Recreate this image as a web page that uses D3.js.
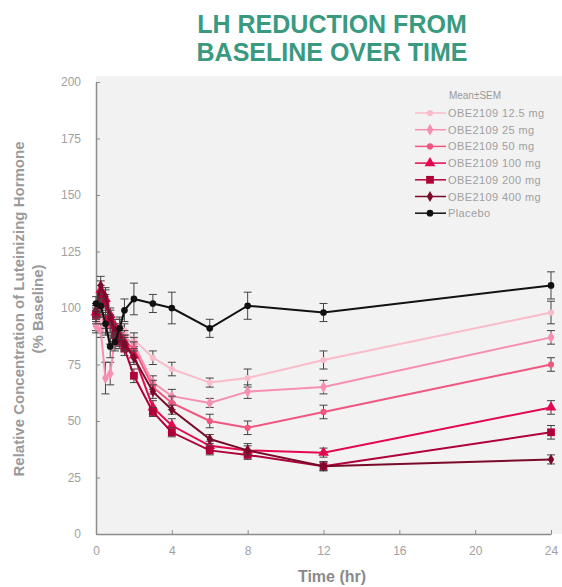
<!DOCTYPE html>
<html>
<head>
<meta charset="utf-8">
<script src="https://cdn.jsdelivr.net/npm/d3@7"></script>
<style>
  body { margin: 0; background: #fff; }
  text { font-family: "Liberation Sans", Arial, sans-serif; }
</style>
</head>
<body>
<div id="chart"></div>
<script>
// time points (hr)
const times = [0, 0.25, 0.5, 0.75, 1, 1.25, 1.5, 2, 3, 4, 6, 8, 12, 24];

// mean % baseline per group
const placebo = [102, 101, 93, 83, 85, 91, 99, 104, 102, 100, 91, 101, 98, 110];
const dose12_5 = [93, 94, 92, 88, 90, 92, 90, 86, 78, 73, 67, 69, 77, 98];
const dose25 = [92, 90, 69, 71, 86, 89, 87, 84, 67, 61, 58, 63, 65, 87];
const dose50 = [96, 100, 95, 92, 88, 86, 85, 82, 65, 58, 50, 47, 54, 75];
const dose100 = [98, 108, 104, 97, 92, 88, 85, 79, 56, 48, 39, 37, 36, 56];
const dose200 = [97, 106, 102, 94, 88, 85, 82, 70, 54, 45, 37, 35, 30, 45];
const dose400 = [99, 110, 105, 96, 90, 87, 84, 78, 63, 55, 42, 37, 30, 33];

// SEM per group
const semPlacebo = [3, 3, 4, 5, 4, 5, 5, 7, 4, 7, 4, 6, 4, 6];
const sem12_5 = [3, 3, 4, 4, 3, 3, 3, 3, 3, 3, 2, 4, 4, 5];
const sem25 = [3, 3, 7, 5, 4, 3, 3, 3, 3, 3, 2, 3, 3, 3];
const sem50 = [3, 4, 4, 3, 3, 3, 3, 3, 3, 3, 3, 3, 3, 3];
const sem100 = [3, 4, 4, 3, 3, 3, 3, 3, 3, 3, 2, 3, 2, 3];
const sem200 = [3, 4, 4, 3, 3, 3, 3, 3, 2, 2, 2, 2, 2, 3];
const sem400 = [3, 4, 4, 3, 3, 3, 3, 3, 3, 2, 2, 2, 2, 2];

const groupNames = ["OBE2109 12.5 mg", "OBE2109 25 mg", "OBE2109 50 mg",
  "OBE2109 100 mg", "OBE2109 200 mg", "OBE2109 400 mg", "Placebo"];

const xTicks = [0, 4, 8, 12, 16, 20, 24];
const yTicks = [0, 25, 50, 75, 100, 125, 150, 175, 200];

const width = 562, height = 587;
const margin = {left: 96, right: 11, top: 82, bottom: 53};

const series = [
  {name: groupNames[0], mean: dose12_5, sem: sem12_5, color: "#f9bccb", shape: d3.symbolCircle, size: 30},
  {name: groupNames[1], mean: dose25, sem: sem25, color: "#f68fb0", shape: d3.symbolDiamond, size: 40},
  {name: groupNames[2], mean: dose50, sem: sem50, color: "#f0567f", shape: d3.symbolCircle, size: 30},
  {name: groupNames[3], mean: dose100, sem: sem100, color: "#e4084f", shape: d3.symbolTriangle, size: 50},
  {name: groupNames[4], mean: dose200, sem: sem200, color: "#b00038", shape: d3.symbolSquare, size: 60},
  {name: groupNames[5], mean: dose400, sem: sem400, color: "#7a0a2a", shape: d3.symbolDiamond, size: 35},
  {name: groupNames[6], mean: placebo, sem: semPlacebo, color: "#111111", shape: d3.symbolCircle, size: 35}
];

const svg = d3.select("#chart").append("svg")
  .attr("width", width)
  .attr("height", height);

const xScale = d3.scaleLinear()
  .domain([0, 24])
  .range([margin.left, width - margin.right]);

const yScale = d3.scaleLinear()
  .domain([0, 200])
  .range([height - margin.bottom, margin.top]);

// plot background
svg.append("rect")
  .attr("x", margin.left)
  .attr("y", margin.top - 6)
  .attr("width", width - margin.left)
  .attr("height", height - margin.bottom - margin.top + 6)
  .attr("fill", "#f2f2f2");

// title
svg.append("text")
  .attr("x", 332).attr("y", 33)
  .attr("text-anchor", "middle")
  .attr("font-size", 25).attr("font-weight", "bold")
  .attr("fill", "#3a9a7f")
  .text("LH REDUCTION FROM");
svg.append("text")
  .attr("x", 332).attr("y", 61)
  .attr("text-anchor", "middle")
  .attr("font-size", 25).attr("font-weight", "bold")
  .attr("fill", "#3a9a7f")
  .text("BASELINE OVER TIME");

// axes
const yAxis = svg.append("g")
  .attr("transform", `translate(${margin.left},0)`)
  .call(d3.axisLeft(yScale).tickValues(yTicks).tickSizeInner(-4).tickSizeOuter(0).tickPadding(15));

const xAxis = svg.append("g")
  .attr("transform", `translate(0,${height - margin.bottom})`)
  .call(d3.axisBottom(xScale).tickValues(xTicks).tickSizeInner(-4).tickSizeOuter(0).tickPadding(12));

[xAxis, yAxis].forEach(ax => {
  ax.select(".domain").attr("stroke", "#8c8c8c").attr("stroke-width", 1.5);
  ax.selectAll(".tick line").attr("stroke", "#8c8c8c");
  ax.selectAll(".tick text").attr("fill", "#a0a0a0").attr("font-size", 12)
    .attr("font-family", "Liberation Sans, Arial, sans-serif");
});

// axis titles
svg.append("text")
  .attr("transform", `translate(24,309) rotate(-90)`)
  .attr("text-anchor", "middle")
  .attr("font-size", 15).attr("font-weight", "bold")
  .attr("fill", "#9a9a9a")
  .text("Relative Concentration of Luteinizing Hormone");
svg.append("text")
  .attr("transform", `translate(43,309) rotate(-90)`)
  .attr("text-anchor", "middle")
  .attr("font-size", 15).attr("font-weight", "bold")
  .attr("fill", "#9a9a9a")
  .text("(% Baseline)");
svg.append("text")
  .attr("x", 332).attr("y", 582)
  .attr("text-anchor", "middle")
  .attr("font-size", 16).attr("font-weight", "bold")
  .attr("fill", "#8a8a8a")
  .text("Time (hr)");

const linegen = d3.line()
  .x(d => xScale(d.t))
  .y(d => yScale(d.v));

series.forEach(s => {
  const pts = times.map((t, i) => ({t: t, v: s.mean[i], e: s.sem[i]}));
  const g = svg.append("g");

  // error bars
  const eb = g.selectAll(".eb").data(pts).join("g");
  eb.append("line")
    .attr("x1", d => xScale(d.t)).attr("x2", d => xScale(d.t))
    .attr("y1", d => yScale(d.v - d.e)).attr("y2", d => yScale(d.v + d.e))
    .attr("stroke", "#444").attr("stroke-width", 1);
  [-1, 1].forEach(sg => {
    eb.append("line")
      .attr("x1", d => xScale(d.t) - 4).attr("x2", d => xScale(d.t) + 4)
      .attr("y1", d => yScale(d.v + sg * d.e)).attr("y2", d => yScale(d.v + sg * d.e))
      .attr("stroke", "#444").attr("stroke-width", 1);
  });

  g.append("path")
    .attr("d", linegen(pts))
    .attr("fill", "none")
    .attr("stroke", s.color)
    .attr("stroke-width", 2);

  g.selectAll(".pt").data(pts).join("path")
    .attr("transform", d => `translate(${xScale(d.t)},${yScale(d.v)})`)
    .attr("d", d3.symbol().type(s.shape).size(s.size))
    .attr("fill", s.color);
});

// legend
const legend = svg.append("g");
legend.append("text")
  .attr("x", 475).attr("y", 99)
  .attr("text-anchor", "middle")
  .attr("font-size", 10).attr("fill", "#999")
  .text("Mean\u00B1SEM");

series.forEach((s, i) => {
  const y = 113 + i * 16.7;
  legend.append("line")
    .attr("x1", 415).attr("x2", 446)
    .attr("y1", y).attr("y2", y)
    .attr("stroke", s.color).attr("stroke-width", 1.5);
  legend.append("path")
    .attr("transform", `translate(430,${y})`)
    .attr("d", d3.symbol().type(s.shape).size(s.size))
    .attr("fill", s.color);
  legend.append("text")
    .attr("x", 448).attr("y", y + 4)
    .attr("font-size", 11).attr("letter-spacing", 0.4).attr("fill", "#a0a0a0")
    .text(s.name);
});
</script>
</body>
</html>
